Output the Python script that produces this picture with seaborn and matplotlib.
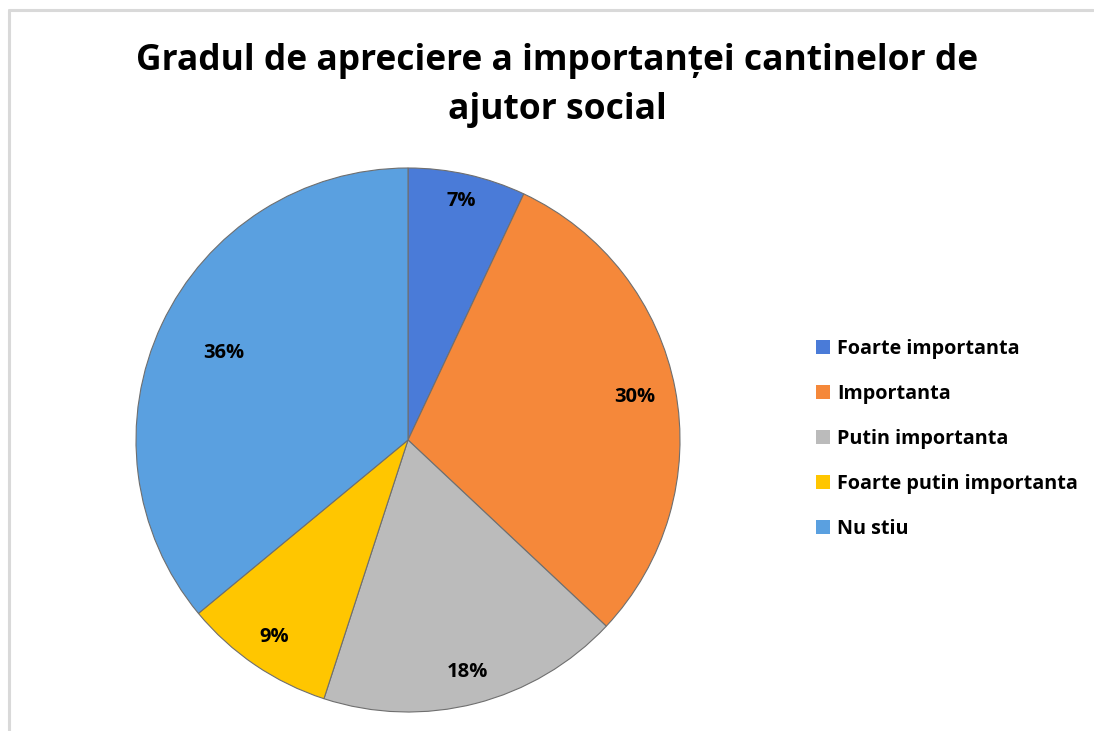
"""
Pie chart: Gradul de apreciere a importanței cantinelor de ajutor social.
"""
import matplotlib
matplotlib.use("Agg")
import matplotlib.pyplot as plt
from matplotlib.lines import Line2D
import numpy as np
import seaborn as sns

# ---------- data ----------
categories = ["Foarte importanta", "Importanta", "Putin importanta",
              "Foarte putin importanta", "Nu stiu"]
shares = [7, 30, 18, 9, 36]
label_dist = [0.90, 0.85, 0.88, 0.875, 0.75]

COLORS = ["#4A7BD8", "#F5883A", "#BBBBBB", "#FFC600", "#5AA0E0"]

sns.set_theme(style="white")
plt.rcParams["font.family"] = ["Open Sans", "DejaVu Sans"]
plt.rcParams["text.color"] = "black"

fig = plt.figure(figsize=(10.94, 7.31), dpi=100)

# light chart border (top & left)
fig.add_artist(Line2D([8.5 / 1094, 1093 / 1094], [1 - 9.5 / 731] * 2,
                      color="#d9d9d9", lw=2.2))
fig.add_artist(Line2D([8.5 / 1094] * 2, [0, 1 - 9.5 / 731],
                      color="#d9d9d9", lw=2.2))

ax = fig.add_axes([(408 - 272) / 1094, (731 - 440 - 272) / 731,
                   544 / 1094, 544 / 731])
wedges, _ = ax.pie(shares, colors=COLORS, startangle=90, counterclock=False,
                   radius=1.0,
                   wedgeprops=dict(edgecolor="#6f6f6f", linewidth=0.8))
ax.set_xlim(-1, 1)
ax.set_ylim(-1, 1)
ax.set_aspect("equal")

for w, v, d in zip(wedges, shares, label_dist):
    ang = np.deg2rad((w.theta1 + w.theta2) / 2)
    ax.text(d * np.cos(ang), d * np.sin(ang), f"{v}%", ha="center",
            va="center", fontsize=14.5, fontweight="bold", color="black")

fig.text(557 / 1094, 1 - 61 / 731,
         "Gradul de apreciere a importanței cantinelor de",
         ha="center", va="center", fontsize=25.5, fontweight="bold")
fig.text(557 / 1094, 1 - 110 / 731, "ajutor social",
         ha="center", va="center", fontsize=25.5, fontweight="bold")

handles = [plt.Rectangle((0, 0), 1, 1, facecolor=c, edgecolor="none")
           for c in COLORS]
fig.legend(handles, categories, loc="center left",
           bbox_to_anchor=(798 / 1094, 1 - 439 / 731), frameon=False,
           prop=dict(size=14.2, weight="bold"), handlelength=0.7,
           handleheight=0.7, handletextpad=0.4, labelspacing=1.26)

fig.savefig("out.png", dpi=100)
